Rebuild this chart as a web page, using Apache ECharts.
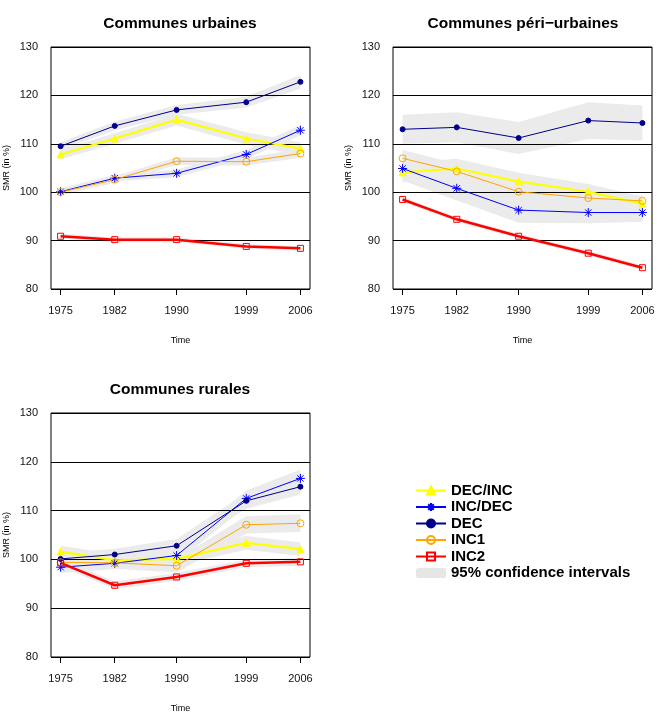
<!DOCTYPE html>
<html>
<head>
<meta charset="utf-8">
<script src="https://cdn.jsdelivr.net/npm/echarts@6/dist/echarts.min.js"></script>
<style>
  html, body { margin: 0; padding: 0; background: #fff; }
  #main { width: 660px; height: 721px; }
</style>
</head>
<body>
<div id="main"></div>
<script>
const years = [1975, 1982, 1990, 1999, 2006];
const yTicks = [80, 90, 100, 110, 120, 130];

// Communes urbaines
const urbDecInc = [107.8, 111.1, 115.0, 111.1, 109.0];
const urbIncDec = [100.1, 102.9, 103.9, 107.8, 112.8];
const urbDec = [109.5, 113.7, 117.0, 118.6, 122.8];
const urbInc1 = [100.0, 102.6, 106.4, 106.3, 108.0];
const urbInc2 = [90.9, 90.2, 90.2, 88.8, 88.4];
// half widths of the 95% intervals
const urbCiDecInc = [1.0, 1.1, 1.2, 1.3, 1.3];
const urbCiIncDec = [0.7, 0.7, 0.8, 0.9, 1.1];
const urbCiDec = [0.8, 0.9, 1.0, 1.1, 1.4];
const urbCiInc1 = [0.7, 0.7, 0.8, 0.8, 0.9];
const urbCiInc2 = [0.5, 0.5, 0.5, 0.5, 0.5];

// Communes péri-urbaines
const periDecInc = [104.1, 104.9, 102.2, 100.1, 97.6];
const periIncDec = [104.9, 100.8, 96.3, 95.8, 95.8];
const periDec = [113.0, 113.4, 111.2, 114.8, 114.3];
const periInc1 = [107.0, 104.3, 100.1, 98.8, 98.2];
const periInc2 = [98.5, 94.4, 90.9, 87.4, 84.4];
const periCiDecInc = [2.0, 2.0, 1.8, 1.6, 1.5];
const periCiIncDec = [2.5, 2.5, 2.6, 2.2, 1.9];
const periCiDec = [3.0, 3.1, 3.3, 3.8, 3.6];
const periCiInc1 = [1.7, 1.6, 1.5, 1.3, 1.1];
const periCiInc2 = [0.5, 0.5, 0.5, 0.5, 0.5];

// Communes rurales
const rurDecInc = [101.6, 99.8, 100.1, 103.4, 102.1];
const rurIncDec = [98.4, 99.2, 100.8, 112.5, 116.6];
const rurDec = [100.1, 101.0, 102.8, 112.0, 114.9];
const rurInc1 = [99.4, 99.3, 98.7, 107.1, 107.4];
const rurInc2 = [99.3, 94.7, 96.4, 99.2, 99.5];
const rurCiDecInc = [1.2, 1.3, 1.3, 1.4, 1.4];
const rurCiIncDec = [1.2, 1.2, 1.4, 1.6, 1.8];
const rurCiDec = [1.2, 1.2, 1.4, 1.6, 1.6];
const rurCiInc1 = [1.2, 1.2, 1.4, 1.8, 1.8];
const rurCiInc2 = [0.8, 0.8, 0.8, 0.8, 0.8];

const titles = ['Communes urbaines', 'Communes péri\u2212urbaines', 'Communes rurales'];
const legendNames = ['DEC/INC', 'INC/DEC', 'DEC', 'INC1', 'INC2'];
const ciName = '95% confidence intervals';

const panels = [
  { vals: [urbDecInc, urbIncDec, urbDec, urbInc1, urbInc2],
    cis: [urbCiDecInc, urbCiIncDec, urbCiDec, urbCiInc1, urbCiInc2] },
  { vals: [periDecInc, periIncDec, periDec, periInc1, periInc2],
    cis: [periCiDecInc, periCiIncDec, periCiDec, periCiInc1, periCiInc2] },
  { vals: [rurDecInc, rurIncDec, rurDec, rurInc1, rurInc2],
    cis: [rurCiDecInc, rurCiIncDec, rurCiDec, rurCiInc1, rurCiInc2] }
];

const font = "'Liberation Sans', Arial, sans-serif";
const asterisk = 'path://M5,0L5,10M0,5L10,5M1.5,1.5L8.5,8.5M8.5,1.5L1.5,8.5';

const styles = {
  'DEC/INC': { color: '#ffff00', width: 2.2, symbol: 'triangle', size: 7, fill: '#ffff00' },
  'INC/DEC': { color: '#0000ff', width: 1, symbol: asterisk, size: 9, fill: 'none' },
  'DEC': { color: '#00008b', width: 1, symbol: 'circle', size: 5, fill: '#00008b' },
  'INC1': { color: '#ffa500', width: 1, symbol: 'circle', size: 7, fill: 'none' },
  'INC2': { color: '#ff0000', width: 2.5, symbol: 'rect', size: 6, fill: 'none' }
};

const gridPos = [
  { left: 51, top: 47, width: 259, height: 242 },
  { left: 393, top: 47, width: 259, height: 242 },
  { left: 51, top: 413, width: 259, height: 244 }
];
const titlePos = [[175, 11], [518, 11], [175, 377]];

var chartDom = document.getElementById('main');
var myChart = echarts.init(chartDom);

function bandRender(params, api) {
  if (params.dataIndexInside !== 0) return null;
  var n = params.dataInsideLength;
  var pts = [];
  for (var j = 0; j < n; j++) pts.push(api.coord([api.value(0, j), api.value(2, j)]));
  for (var k = n - 1; k >= 0; k--) pts.push(api.coord([api.value(0, k), api.value(1, k)]));
  return { type: 'polygon', shape: { points: pts }, style: { fill: '#ebebeb' } };
}

var grid = [], xAxis = [], yAxis = [], series = [], title = [];

panels.forEach(function (p, gi) {
  grid.push(Object.assign({ show: true, borderColor: '#000', borderWidth: 1, backgroundColor: 'transparent' }, gridPos[gi]));
  title.push({
    text: titles[gi], left: titlePos[gi][0], top: titlePos[gi][1], textAlign: 'center',
    textStyle: { fontFamily: font, fontSize: 15.5, fontWeight: 'bold', color: '#000' }
  });
  xAxis.push({
    type: 'value', gridIndex: gi, min: 1973.76, max: 2007.24,
    name: 'Time', nameLocation: 'middle', nameGap: 47,
    nameTextStyle: { fontFamily: font, fontSize: 9, color: '#000' },
    axisLine: { show: false },
    axisTick: { show: true, length: 6, customValues: years, lineStyle: { color: '#000' } },
    axisLabel: {
      customValues: years, fontFamily: font, fontSize: 11, color: '#111', margin: 16,
      formatter: function (v) { return String(v); }
    },
    splitLine: { show: false }
  });
  yAxis.push({
    type: 'value', gridIndex: gi, min: 80, max: 130, interval: 10, z: 2,
    name: 'SMR (in %)', nameLocation: 'middle', nameGap: 40,
    nameTextStyle: { fontFamily: font, fontSize: 9, color: '#000' },
    axisLine: { show: false },
    axisTick: { show: false },
    axisLabel: { fontFamily: font, fontSize: 11, color: '#111', margin: 13 },
    splitLine: { show: true, lineStyle: { color: '#000', width: 1 } }
  });
  // bands first
  p.vals.forEach(function (v, si) {
    series.push({
      type: 'custom', name: ciName, xAxisIndex: gi, yAxisIndex: gi, z: 1,
      renderItem: bandRender,
      encode: { x: 0, y: [1, 2] },
      data: years.map(function (yr, i) { return [yr, v[i] - p.cis[si][i], v[i] + p.cis[si][i]]; }),
      silent: true
    });
  });
  p.vals.forEach(function (v, si) {
    var nm = legendNames[si];
    var st = styles[nm];
    series.push({
      type: 'line', name: nm, xAxisIndex: gi, yAxisIndex: gi, z: 3,
      data: years.map(function (yr, i) { return [yr, v[i]]; }),
      symbol: st.symbol, symbolSize: st.size, showAllSymbol: true,
      lineStyle: { color: st.color, width: st.width },
      itemStyle: { color: st.fill, borderColor: st.color, borderWidth: 1 },
      emphasis: { disabled: true },
      animation: false
    });
  });
});

var option = {
  backgroundColor: '#fff',
  animation: false,
  title: title,
  grid: grid,
  xAxis: xAxis,
  yAxis: yAxis,
  legend: {
    orient: 'vertical', left: 410, top: 478,
    itemWidth: 30, itemHeight: 10, itemGap: 1.5,
    textStyle: { fontFamily: font, fontSize: 15, fontWeight: 'bold', color: '#000' },
    data: legendNames.map(function (n) { return { name: n }; }).concat([
      { name: ciName, icon: 'roundRect', itemStyle: { color: '#e6e6e6' } }
    ])
  },
  series: series
};

option && myChart.setOption(option);
</script>
</body>
</html>
